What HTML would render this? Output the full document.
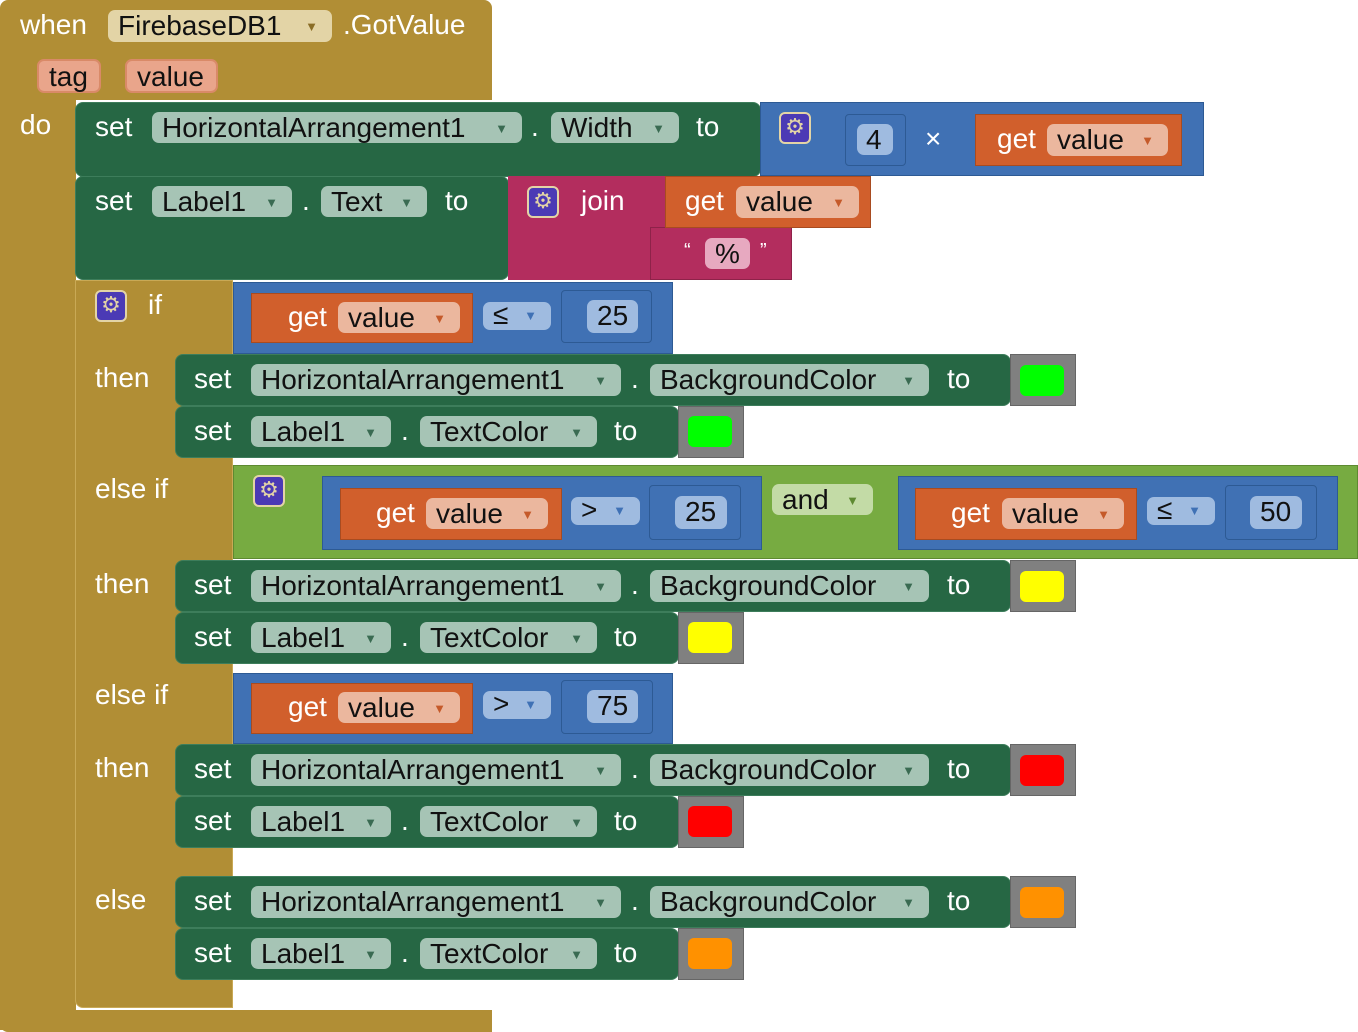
<!DOCTYPE html>
<html><head><meta charset="utf-8"><style>
body{margin:0;width:1358px;height:1032px;background:#fff;position:relative;overflow:hidden;font-family:"Liberation Sans",sans-serif;}
div{position:absolute;box-sizing:border-box;}
.t{color:#fff;font-size:28px;white-space:nowrap;line-height:30px;}
.f{border-radius:7px;color:#111;font-size:28px;line-height:31px;white-space:nowrap;padding-left:10px;}
.f span{position:absolute;right:14px;top:1px;font-size:13px;}
.gf{background:#a6c4b5;}
.bf{background:#9fbbe0;}
.of{background:#ebb79e;}
.gold{background:#b18e35;}
.green{background:#266744;border-radius:8px;border:1px solid #3d7d5b;}
.blue{background:#4071b4;border:1px solid #2d5a94;}
.org{background:#d15f2c;border:1px solid #a84b20;}
.gear{background:#4b3ab5;border:2px solid #e3d4a6;border-radius:6px;color:#e3d4a6;font-size:22px;text-align:center;line-height:26px;}
.sw{border-radius:6px;}
.grey{background:#808080;border:1px solid #666;}
.ar{color:#3a6b52;}
</style></head><body>
<!-- event block -->
<div class="gold" style="left:0;top:0;width:492px;height:100px;border-radius:8px 8px 0 0"></div>
<div class="gold" style="left:0;top:90px;width:76px;height:940px"></div>
<div class="gold" style="left:0;top:1010px;width:492px;height:22px;border-radius:0 0 0 8px"></div>
<div class="t" style="left:20px;top:10px">when</div>
<div class="f" style="left:108px;top:10px;width:224px;height:32px;background:#e3d4a6">FirebaseDB1 <span style="color:#8a6d26">▼</span></div>
<div class="t" style="left:343px;top:10px">.GotValue</div>
<div class="f" style="left:37px;top:59px;width:64px;height:34px;background:#e9a58b;border:2px solid #d98a68">tag</div>
<div class="f" style="left:125px;top:59px;width:93px;height:34px;background:#e9a58b;border:2px solid #d98a68">value</div>
<div class="t" style="left:20px;top:110px">do</div>

<!-- if block gold column -->
<div class="gold" style="left:75px;top:280px;width:158px;height:728px;border:1px solid #c9a955;border-radius:0 0 0 8px"></div>

<!-- set 1 -->
<div class="green" style="left:75px;top:102px;width:686px;height:75px"></div>
<div class="t" style="left:95px;top:112px">set</div>
<div class="f gf" style="left:152px;top:112px;width:370px;height:31px">HorizontalArrangement1 <span class="ar">▼</span></div>
<div class="t" style="left:531px;top:112px">.</div>
<div class="f gf" style="left:551px;top:112px;width:128px;height:31px">Width <span class="ar">▼</span></div>
<div class="t" style="left:696px;top:112px">to</div>
<div class="blue" style="left:760px;top:102px;width:444px;height:74px"></div>
<div class="gear" style="left:779px;top:112px;width:32px;height:32px">⚙</div>
<div class="blue" style="left:845px;top:114px;width:61px;height:52px;border-radius:4px"></div>
<div class="f bf" style="left:857px;top:124px;width:36px;height:31px;padding-left:9px">4</div>
<div class="t" style="left:925px;top:124px">×</div>
<div class="org" style="left:975px;top:114px;width:207px;height:52px"></div>
<div class="t" style="left:997px;top:124px">get</div>
<div class="f of" style="left:1047px;top:124px;width:121px;height:32px">value <span style="color:#c55a2a">▼</span></div>

<!-- set 2 -->
<div class="green" style="left:75px;top:176px;width:434px;height:104px"></div>
<div class="t" style="left:95px;top:186px">set</div>
<div class="f gf" style="left:152px;top:186px;width:140px;height:31px">Label1 <span class="ar">▼</span></div>
<div class="t" style="left:302px;top:186px">.</div>
<div class="f gf" style="left:321px;top:186px;width:106px;height:31px">Text <span class="ar">▼</span></div>
<div class="t" style="left:445px;top:186px">to</div>
<div style="left:508px;top:176px;width:158px;height:104px;background:#b32d5e"></div>
<div style="left:650px;top:227px;width:142px;height:53px;background:#b32d5e;border:1px solid #8e2249"></div>
<div class="gear" style="left:527px;top:186px;width:32px;height:32px">⚙</div>
<div class="t" style="left:581px;top:186px">join</div>
<div class="org" style="left:665px;top:176px;width:206px;height:52px"></div>
<div class="t" style="left:685px;top:186px">get</div>
<div class="f of" style="left:736px;top:186px;width:123px;height:32px">value <span style="color:#c55a2a">▼</span></div>
<div class="t" style="left:684px;top:236px;font-size:20px">“</div>
<div class="f" style="left:705px;top:238px;width:45px;height:31px;background:#e7a9c0">%</div>
<div class="t" style="left:760px;top:236px;font-size:20px">”</div>

<!-- if -->
<div class="gear" style="left:95px;top:290px;width:32px;height:32px">⚙</div>
<div class="t" style="left:148px;top:290px">if</div>
<div class="blue" style="left:233px;top:282px;width:440px;height:72px"></div>
<div class="org" style="left:251px;top:293px;width:222px;height:50px"></div>
<div class="t" style="left:288px;top:302px">get</div>
<div class="f of" style="left:338px;top:302px;width:122px;height:31px">value <span style="color:#c55a2a">▼</span></div>
<div class="f bf" style="left:483px;top:302px;width:68px;height:28px;line-height:26px">≤ <span style="color:#3f71b5">▼</span></div>
<div class="blue" style="left:561px;top:290px;width:91px;height:53px;border-radius:4px"></div>
<div class="f bf" style="left:587px;top:300px;width:51px;height:33px">25</div>

<div class="t" style="left:95px;top:363px">then</div>
<div class="green" style="left:175px;top:354px;width:836px;height:52px"></div>
<div class="t" style="left:194px;top:364px">set</div>
<div class="f gf" style="left:251px;top:364px;width:370px;height:32px">HorizontalArrangement1 <span class="ar">▼</span></div>
<div class="t" style="left:631px;top:364px">.</div>
<div class="f gf" style="left:650px;top:364px;width:279px;height:32px">BackgroundColor <span class="ar">▼</span></div>
<div class="t" style="left:947px;top:364px">to</div>
<div class="grey" style="left:1010px;top:354px;width:66px;height:52px"></div>
<div class="sw" style="left:1020px;top:365px;width:44px;height:31px;background:#00ff00"></div>
<div class="green" style="left:175px;top:406px;width:504px;height:52px"></div>
<div class="t" style="left:194px;top:416px">set</div>
<div class="f gf" style="left:251px;top:416px;width:140px;height:31px">Label1 <span class="ar">▼</span></div>
<div class="t" style="left:401px;top:416px">.</div>
<div class="f gf" style="left:420px;top:416px;width:177px;height:31px">TextColor <span class="ar">▼</span></div>
<div class="t" style="left:614px;top:416px">to</div>
<div class="grey" style="left:678px;top:406px;width:66px;height:52px"></div>
<div class="sw" style="left:688px;top:416px;width:44px;height:31px;background:#00ff00"></div>

<!-- else if 1 -->
<div class="t" style="left:95px;top:474px">else if</div>
<div style="left:233px;top:465px;width:1125px;height:94px;background:#77ab41;border:1px solid #5e8a31"></div>
<div class="gear" style="left:253px;top:475px;width:32px;height:32px">⚙</div>
<div class="blue" style="left:322px;top:476px;width:440px;height:74px"></div>
<div class="org" style="left:340px;top:488px;width:222px;height:52px"></div>
<div class="t" style="left:376px;top:498px">get</div>
<div class="f of" style="left:426px;top:498px;width:122px;height:31px">value <span style="color:#c55a2a">▼</span></div>
<div class="f bf" style="left:571px;top:497px;width:69px;height:28px;line-height:26px">&gt; <span style="color:#3f71b5">▼</span></div>
<div class="blue" style="left:649px;top:485px;width:92px;height:55px;border-radius:4px"></div>
<div class="f bf" style="left:675px;top:496px;width:52px;height:33px">25</div>
<div class="f" style="left:772px;top:484px;width:101px;height:31px;background:#c3dba6">and <span style="color:#5e8a31">▼</span></div>
<div class="blue" style="left:898px;top:476px;width:440px;height:74px"></div>
<div class="org" style="left:915px;top:488px;width:222px;height:52px"></div>
<div class="t" style="left:951px;top:498px">get</div>
<div class="f of" style="left:1002px;top:498px;width:122px;height:31px">value <span style="color:#c55a2a">▼</span></div>
<div class="f bf" style="left:1147px;top:497px;width:68px;height:28px;line-height:26px">≤ <span style="color:#3f71b5">▼</span></div>
<div class="blue" style="left:1225px;top:485px;width:92px;height:55px;border-radius:4px"></div>
<div class="f bf" style="left:1250px;top:496px;width:52px;height:33px">50</div>

<div class="t" style="left:95px;top:569px">then</div>
<div class="green" style="left:175px;top:560px;width:836px;height:52px"></div>
<div class="t" style="left:194px;top:570px">set</div>
<div class="f gf" style="left:251px;top:570px;width:370px;height:32px">HorizontalArrangement1 <span class="ar">▼</span></div>
<div class="t" style="left:631px;top:570px">.</div>
<div class="f gf" style="left:650px;top:570px;width:279px;height:32px">BackgroundColor <span class="ar">▼</span></div>
<div class="t" style="left:947px;top:570px">to</div>
<div class="grey" style="left:1010px;top:560px;width:66px;height:52px"></div>
<div class="sw" style="left:1020px;top:571px;width:44px;height:31px;background:#ffff00"></div>
<div class="green" style="left:175px;top:612px;width:504px;height:52px"></div>
<div class="t" style="left:194px;top:622px">set</div>
<div class="f gf" style="left:251px;top:622px;width:140px;height:31px">Label1 <span class="ar">▼</span></div>
<div class="t" style="left:401px;top:622px">.</div>
<div class="f gf" style="left:420px;top:622px;width:177px;height:31px">TextColor <span class="ar">▼</span></div>
<div class="t" style="left:614px;top:622px">to</div>
<div class="grey" style="left:678px;top:612px;width:66px;height:52px"></div>
<div class="sw" style="left:688px;top:622px;width:44px;height:31px;background:#ffff00"></div>

<!-- else if 2 -->
<div class="t" style="left:95px;top:680px">else if</div>
<div class="blue" style="left:233px;top:673px;width:440px;height:71px"></div>
<div class="org" style="left:251px;top:683px;width:222px;height:51px"></div>
<div class="t" style="left:288px;top:692px">get</div>
<div class="f of" style="left:338px;top:692px;width:122px;height:31px">value <span style="color:#c55a2a">▼</span></div>
<div class="f bf" style="left:483px;top:691px;width:68px;height:28px;line-height:26px">&gt; <span style="color:#3f71b5">▼</span></div>
<div class="blue" style="left:561px;top:680px;width:92px;height:54px;border-radius:4px"></div>
<div class="f bf" style="left:587px;top:690px;width:51px;height:33px">75</div>

<div class="t" style="left:95px;top:753px">then</div>
<div class="green" style="left:175px;top:744px;width:836px;height:52px"></div>
<div class="t" style="left:194px;top:754px">set</div>
<div class="f gf" style="left:251px;top:754px;width:370px;height:32px">HorizontalArrangement1 <span class="ar">▼</span></div>
<div class="t" style="left:631px;top:754px">.</div>
<div class="f gf" style="left:650px;top:754px;width:279px;height:32px">BackgroundColor <span class="ar">▼</span></div>
<div class="t" style="left:947px;top:754px">to</div>
<div class="grey" style="left:1010px;top:744px;width:66px;height:52px"></div>
<div class="sw" style="left:1020px;top:755px;width:44px;height:31px;background:#ff0000"></div>
<div class="green" style="left:175px;top:796px;width:504px;height:52px"></div>
<div class="t" style="left:194px;top:806px">set</div>
<div class="f gf" style="left:251px;top:806px;width:140px;height:31px">Label1 <span class="ar">▼</span></div>
<div class="t" style="left:401px;top:806px">.</div>
<div class="f gf" style="left:420px;top:806px;width:177px;height:31px">TextColor <span class="ar">▼</span></div>
<div class="t" style="left:614px;top:806px">to</div>
<div class="grey" style="left:678px;top:796px;width:66px;height:52px"></div>
<div class="sw" style="left:688px;top:806px;width:44px;height:31px;background:#ff0000"></div>

<!-- else -->
<div class="t" style="left:95px;top:885px">else</div>
<div class="green" style="left:175px;top:876px;width:836px;height:52px"></div>
<div class="t" style="left:194px;top:886px">set</div>
<div class="f gf" style="left:251px;top:886px;width:370px;height:32px">HorizontalArrangement1 <span class="ar">▼</span></div>
<div class="t" style="left:631px;top:886px">.</div>
<div class="f gf" style="left:650px;top:886px;width:279px;height:32px">BackgroundColor <span class="ar">▼</span></div>
<div class="t" style="left:947px;top:886px">to</div>
<div class="grey" style="left:1010px;top:876px;width:66px;height:52px"></div>
<div class="sw" style="left:1020px;top:887px;width:44px;height:31px;background:#ff9100"></div>
<div class="green" style="left:175px;top:928px;width:504px;height:52px"></div>
<div class="t" style="left:194px;top:938px">set</div>
<div class="f gf" style="left:251px;top:938px;width:140px;height:31px">Label1 <span class="ar">▼</span></div>
<div class="t" style="left:401px;top:938px">.</div>
<div class="f gf" style="left:420px;top:938px;width:177px;height:31px">TextColor <span class="ar">▼</span></div>
<div class="t" style="left:614px;top:938px">to</div>
<div class="grey" style="left:678px;top:928px;width:66px;height:52px"></div>
<div class="sw" style="left:688px;top:938px;width:44px;height:31px;background:#ff9100"></div>
</body></html>
